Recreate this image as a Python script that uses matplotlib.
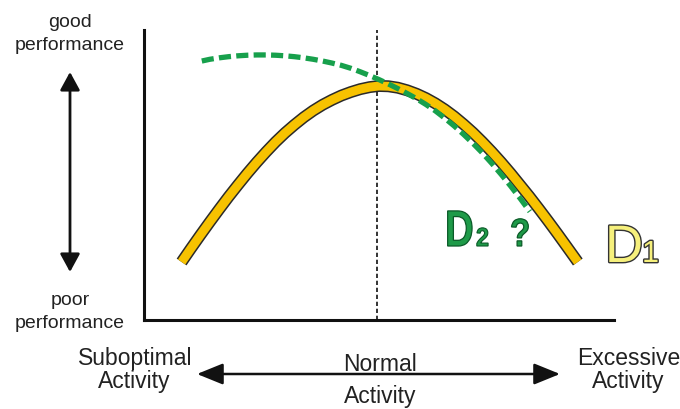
import matplotlib
matplotlib.use("Agg")
import matplotlib.pyplot as plt
import matplotlib.patheffects as pe
from matplotlib.patches import FancyArrowPatch, PathPatch
from matplotlib.textpath import TextPath
from matplotlib.font_manager import FontProperties
from matplotlib.transforms import Affine2D, IdentityTransform

# activity (0-100) vs performance (0-100)
d1_activity = [8, 10, 12, 14, 16, 18, 20, 22, 24, 26, 28, 30, 32, 34, 36, 38, 40, 42, 44, 46, 48, 50,
               52, 54, 56, 58, 60, 62, 64, 66, 68, 70, 72, 74, 76, 78, 80, 82, 84, 86, 88, 90, 92.3]
d1_performance = [20.0, 24.7, 29.3, 33.8, 38.2, 42.5, 46.6, 50.6, 54.4, 58.0, 61.4, 64.5, 67.3, 69.9,
                  72.2, 74.2, 75.9, 77.4, 78.6, 79.6, 80.3, 80.7,
                  80.6, 80.1, 79.2, 78.0, 76.5, 74.7, 72.6, 70.2, 67.5, 64.6, 61.4, 58.0, 54.4, 50.6,
                  46.6, 42.6, 38.4, 34.1, 29.7, 25.2, 20.0]

d2_activity = [12.3, 14, 16, 18, 20, 22, 24, 26, 28, 30, 32, 34, 36, 38, 40, 42, 44, 46, 48, 50,
               52, 54, 56, 58, 60, 62, 64, 66, 68, 70, 72, 74, 76, 78, 80, 82.1]
d2_performance = [89.3, 89.9, 90.4, 90.8, 91.1, 91.3, 91.4, 91.4, 91.3, 91.1, 90.8, 90.4, 89.9, 89.3,
                  88.6, 87.8, 86.8, 85.6, 84.3, 82.9, 81.4, 79.8, 78.1, 76.3, 74.3, 72.1, 69.6, 66.9,
                  64.0, 60.9, 57.6, 54.0, 50.2, 46.2, 42.0, 37.4]

optimum_activity = 49.6

W, H = 680, 410


def px(x, y):
    # pixel position -> figure fraction
    return x / W, 1 - y / H


fig = plt.figure(figsize=(6.8, 4.1), dpi=100)
ax = fig.add_axes([144 / W, (H - 321) / H, 470 / W, 290 / H])
ax.set_xlim(0, 100)
ax.set_ylim(0, 100)
for side in ["top", "right"]:
    ax.spines[side].set_visible(False)
for side in ["left", "bottom"]:
    ax.spines[side].set_linewidth(2.2)
    ax.spines[side].set_color("#111111")
ax.set_xticks([])
ax.set_yticks([])

ax.axvline(optimum_activity, color="#333333", lw=1.4, ls=(0, (2.2, 1.4)), zorder=1)

ax.plot(d1_activity, d1_performance, color="#f7c200", lw=6.4, solid_capstyle="butt",
        solid_joinstyle="round",
        path_effects=[pe.Stroke(linewidth=8.6, foreground="#2a2a2a", capstyle="butt",
                                joinstyle="round"), pe.Normal()],
        zorder=2)
ax.plot(d2_activity, d2_performance, color="#17a04c", lw=3.8, dashes=(2.3, 1.0),
        dash_capstyle="butt", zorder=3)

font = "Liberation Sans"
tc = "#222222"

# left labels
fig.text(*px(70, 27), "good", ha="center", va="baseline", fontsize=14, family=font, color=tc)
fig.text(*px(70, 50), "performance", ha="center", va="baseline", fontsize=14, family=font, color=tc)
fig.text(*px(70, 305), "poor", ha="center", va="baseline", fontsize=14, family=font, color=tc)
fig.text(*px(70, 328), "performance", ha="center", va="baseline", fontsize=14, family=font, color=tc)

# bottom labels
fig.text(*px(135, 365), "Suboptimal", ha="center", va="baseline", fontsize=16.5, family=font, color=tc)
fig.text(*px(134, 388), "Activity", ha="center", va="baseline", fontsize=16.5, family=font, color=tc)
fig.text(*px(380, 371), "Normal", ha="center", va="baseline", fontsize=16.5, family=font, color=tc)
fig.text(*px(380, 403), "Activity", ha="center", va="baseline", fontsize=16.5, family=font, color=tc)
fig.text(*px(629, 365), "Excessive", ha="center", va="baseline", fontsize=16.5, family=font, color=tc)
fig.text(*px(628, 388), "Activity", ha="center", va="baseline", fontsize=16.5, family=font, color=tc)

# arrows
va_arrow = FancyArrowPatch(px(70, 273), px(70, 73), transform=fig.transFigure,
                           arrowstyle="<|-|>,head_length=11,head_width=6",
                           mutation_scale=1, lw=2.0, color="#111111", shrinkA=0, shrinkB=0)
ha_arrow = FancyArrowPatch(px(197, 375), px(560, 375), transform=fig.transFigure,
                           arrowstyle="<|-|>,head_length=16,head_width=6.5",
                           mutation_scale=1, lw=1.8, color="#111111", shrinkA=0, shrinkB=0)
fig.patches.extend([va_arrow, ha_arrow])


def squeezed_text(s, x, y, size, sx, fc, ec, lw, weight="bold"):
    # text drawn as a path so it can be narrowed horizontally (x, y in pixels, baseline)
    path = TextPath((0, 0), s, size=size, prop=FontProperties(family=font, weight=weight))
    tr = Affine2D().scale(sx, 1).translate(x, H - y)
    patch = PathPatch(tr.transform_path(path), transform=IdentityTransform(),
                      fc=fc, ec=ec, lw=lw)
    fig.patches.append(patch)


green, dark_green = "#1e9a48", "#0b5a28"
squeezed_text("D", 445, 247, 51, 0.78, green, dark_green, 0.9)
squeezed_text("2", 476, 247, 26, 0.9, green, dark_green, 0.8)
squeezed_text("?", 510, 247, 39, 0.85, green, dark_green, 0.9)

yellow_fx = [pe.Stroke(linewidth=2.0, foreground="#333333"), pe.Normal()]
fig.text(*px(605, 263), "D", ha="left", va="baseline", fontsize=38,
         family=font, color="#f6f07c", path_effects=yellow_fx)
fig.text(*px(642, 263), "1", ha="left", va="baseline", fontsize=22,
         family=font, color="#f6f07c", path_effects=yellow_fx)

fig.savefig("out.png", dpi=100, facecolor="white")
